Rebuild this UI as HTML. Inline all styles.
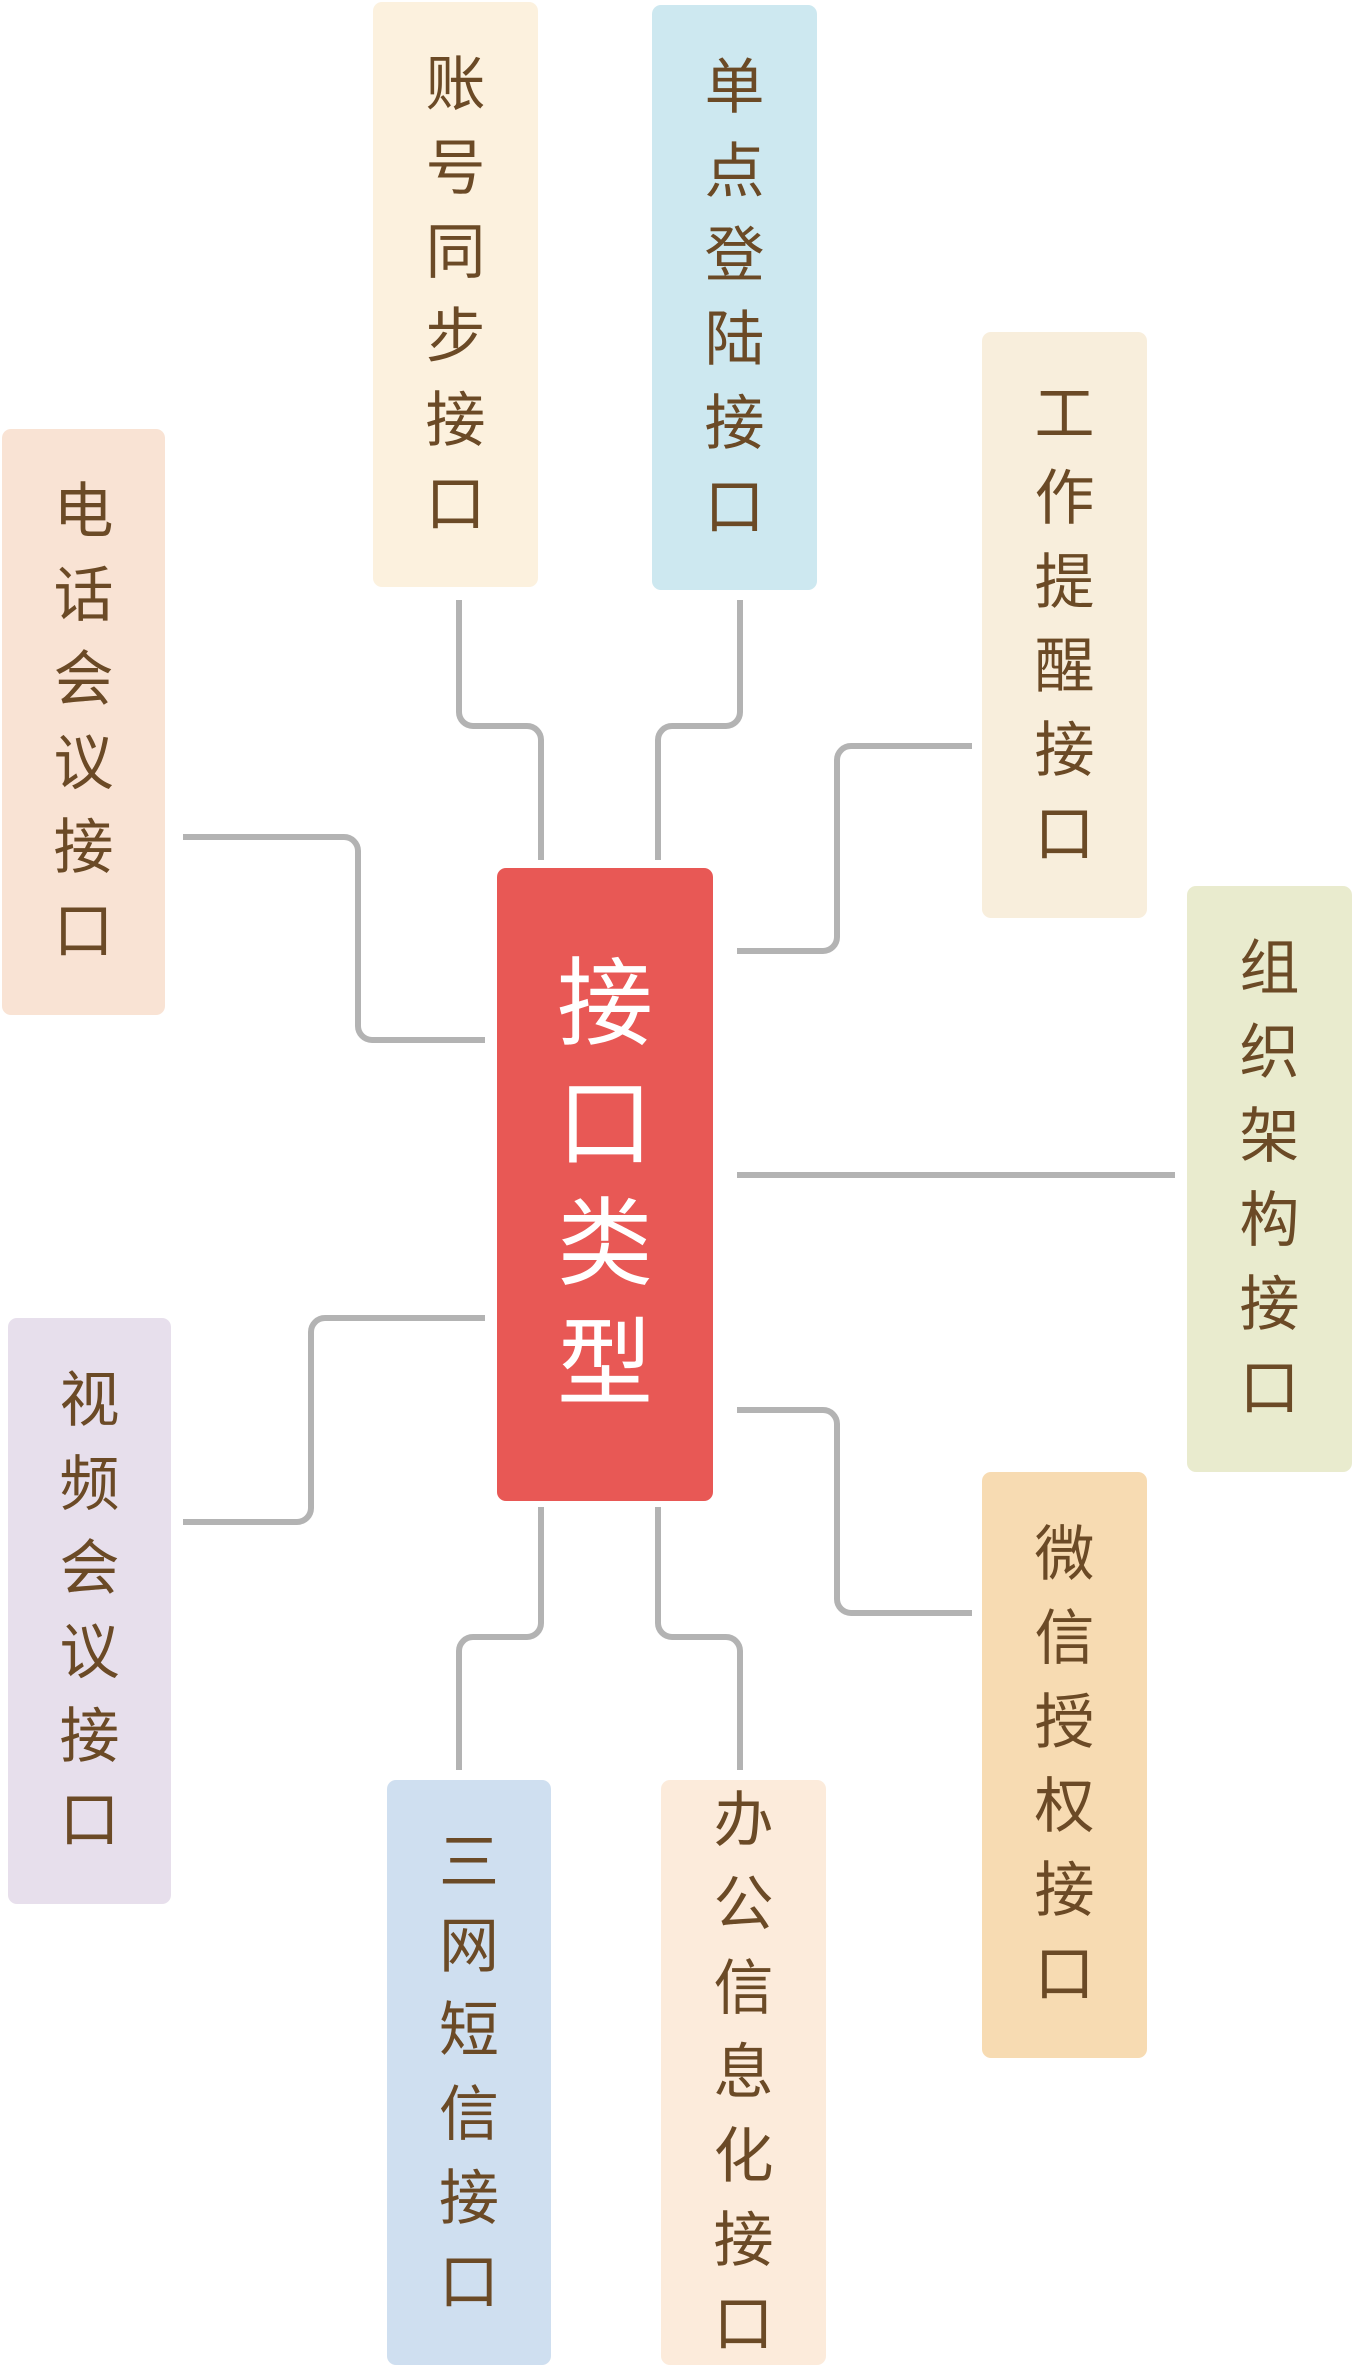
<!DOCTYPE html>
<html><head><meta charset="utf-8"><style>
body{margin:0;width:1353px;height:2369px;background:#fff;position:relative;overflow:hidden;font-family:"Liberation Sans","Noto Sans CJK SC",sans-serif}
.b{position:absolute;border-radius:9px;display:flex;flex-direction:column;align-items:center;justify-content:center;color:#6b4a26;font-size:60px;line-height:84px}
.c{color:#fff;font-size:96px;line-height:120px;background:#e85855}
svg{position:absolute;left:0;top:0}
</style></head><body>
<svg width="1353" height="2369" fill="none" stroke="#b3b3b3" stroke-width="6">
<path d="M459 600V712a14 14 0 0 0 14 14H527a14 14 0 0 1 14 14V860"/>
<path d="M740 600V712a14 14 0 0 1 -14 14H672a14 14 0 0 0 -14 14V860"/>
<path d="M972 746H851a14 14 0 0 0 -14 14V937a14 14 0 0 1 -14 14H737"/>
<path d="M183 837H344a14 14 0 0 1 14 14V1026a14 14 0 0 0 14 14H485"/>
<path d="M737 1175H1175"/>
<path d="M485 1318H325a14 14 0 0 0 -14 14V1508a14 14 0 0 1 -14 14H183"/>
<path d="M737 1410H823a14 14 0 0 1 14 14V1599a14 14 0 0 0 14 14H972"/>
<path d="M541 1507V1623a14 14 0 0 1 -14 14H473a14 14 0 0 0 -14 14V1770"/>
<path d="M658 1507V1623a14 14 0 0 0 14 14H726a14 14 0 0 1 14 14V1770"/>
</svg>
<div class="b" style="left:373px;top:2px;width:165px;height:585px;background:#fcf1de"><span>账</span><span>号</span><span>同</span><span>步</span><span>接</span><span>口</span></div>
<div class="b" style="left:652px;top:5px;width:165px;height:585px;background:#cde8f0"><span>单</span><span>点</span><span>登</span><span>陆</span><span>接</span><span>口</span></div>
<div class="b" style="left:982px;top:332px;width:165px;height:586px;background:#f8eedc"><span>工</span><span>作</span><span>提</span><span>醒</span><span>接</span><span>口</span></div>
<div class="b" style="left:2px;top:429px;width:163px;height:586px;background:#f9e3d4"><span>电</span><span>话</span><span>会</span><span>议</span><span>接</span><span>口</span></div>
<div class="b" style="left:1187px;top:886px;width:165px;height:586px;background:#e9ebce"><span>组</span><span>织</span><span>架</span><span>构</span><span>接</span><span>口</span></div>
<div class="b c" style="left:497px;top:868px;width:216px;height:633px"><span>接</span><span>口</span><span>类</span><span>型</span></div>
<div class="b" style="left:8px;top:1318px;width:163px;height:586px;background:#e7dfec"><span>视</span><span>频</span><span>会</span><span>议</span><span>接</span><span>口</span></div>
<div class="b" style="left:982px;top:1472px;width:165px;height:586px;background:#f7dbb2"><span>微</span><span>信</span><span>授</span><span>权</span><span>接</span><span>口</span></div>
<div class="b" style="left:387px;top:1780px;width:164px;height:585px;background:#cfdff0"><span>三</span><span>网</span><span>短</span><span>信</span><span>接</span><span>口</span></div>
<div class="b" style="left:661px;top:1780px;width:165px;height:585px;background:#fcebdb"><span>办</span><span>公</span><span>信</span><span>息</span><span>化</span><span>接</span><span>口</span></div>
</body></html>
